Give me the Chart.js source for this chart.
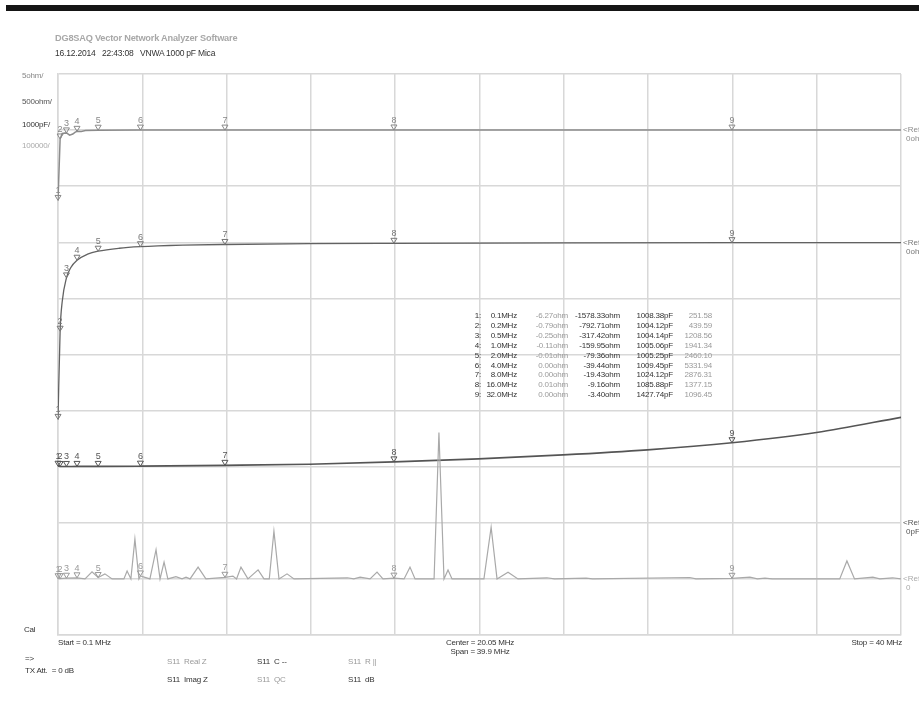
<!DOCTYPE html>
<html>
<head>
<meta charset="utf-8">
<script src="https://cdn.jsdelivr.net/npm/chart.js@4"></script>
<style>
  body { margin: 0; background: #fff; width: 919px; height: 711px; overflow: hidden; position: relative;
         font-family: "Liberation Sans", Arial, sans-serif; }
  #plot { position: absolute; left: 0; top: 0; }
  .t { position: absolute; white-space: nowrap; font-size: 8px; line-height: 10px; color: #333; letter-spacing: -0.2px; }
  .lite { color: #9a9a9a; }
  .r { text-align: right; }
  #bar { position: absolute; left: 6px; top: 5px; width: 913px; height: 6px; background: #151515; }
</style>
</head>
<body>
<div id="bar"></div>
<canvas id="plot" width="919" height="711"></canvas>
<div id="labels"></div>
<script>
// Sweep: 0.1 .. 40 MHz, markers 1..9
const startMHz = 0.1;
const stopMHz = 40;
const markerFreq = [0.1, 0.2, 0.5, 1.0, 2.0, 4.0, 8.0, 16.0, 32.0];
const markerReal = [-6.27, -0.79, -0.25, -0.11, -0.01, 0.00, 0.00, 0.01, 0.00];
const markerImag = [-1578.33, -792.71, -317.42, -159.95, -79.36, -39.44, -19.43, -9.16, -3.40];
const markerCap = [1008.38, 1004.12, 1004.14, 1005.06, 1005.25, 1009.45, 1024.12, 1085.88, 1427.74];
const markerQ = [251.58, 439.59, 1208.56, 1941.34, 2460.10, 5331.94, 2876.31, 1377.15, 1096.45];

// S11 Real Z (ohm)
const realFreq = [0.1, 0.2, 0.3, 0.5, 0.65, 0.8, 0.9, 1.0, 1.2, 1.4, 2.0, 4.0, 8.0, 16.0, 32.0, 40.0];
const realVals = [-6.27, -0.79, -0.3, -0.25, -0.45, -0.35, -0.2, -0.11, -0.12, -0.04, -0.01, 0.00, 0.00, 0.01, 0.00, 0.00];

// S11 Imag Z (ohm)
const imagFreq = [0.1, 0.2, 0.3, 0.5, 0.7, 1.0, 1.5, 2.0, 3.0, 4.0, 6.0, 8.0, 12.0, 16.0, 24.0, 32.0, 40.0];
const imagVals = [-1578.33, -792.71, -528, -317.42, -227, -159.95, -106, -79.36, -53, -39.44, -26, -19.43, -12.5, -9.16, -5.4, -3.40, -2.1];

// S11 C (pF)
const capFreq = [0.1, 0.2, 0.5, 1.0, 2.0, 4.0, 8.0, 12.0, 16.0, 20.0, 24.0, 28.0, 32.0, 36.0, 40.0];
const capVals = [1008.38, 1004.12, 1004.14, 1005.06, 1005.25, 1009.45, 1024.12, 1045, 1085.88, 1140, 1210, 1300, 1427.74, 1610, 1880];

// S11 Q
const qFreq = [0.1, 0.2, 0.5, 1.0, 1.38, 1.71, 2.0, 2.32, 2.66, 3.22, 3.37, 3.55, 3.74, 3.93, 4.0, 4.45, 4.74, 4.93, 5.12, 5.3,
  5.68, 5.97, 6.16, 6.35, 6.73, 7.1, 8.0, 8.38, 8.55, 8.76, 9.09, 9.57, 9.85, 10.1, 10.32, 10.56, 10.94, 11.27,
  13.8, 14.1, 14.4, 14.87, 15.2, 15.48, 16.0, 16.48, 16.76, 17.0, 17.9, 18.13, 18.37, 18.56, 18.75,
  20.26, 20.6, 20.88, 21.4, 21.87, 23.24, 23.6, 25.1, 25.4, 30.0, 30.3, 32.0, 32.85, 33.2, 33.56, 33.9,
  37.1, 37.44, 37.8, 38.67, 39.0, 39.6, 40.0];
const qVals = [251.58, 439.59, 1208.56, 1941.34, 0, 12500, 2460.10, 9000, 0, 0, 14000, 0, 71000, 0, 5331.94, 0, 52000, 0, 30000, 0,
  4000, 0, 3000, 0, 21000, 0, 2876.31, 5000, 0, 21000, 0, 16000, 0, 0, 85000, 0, 9000, 0,
  2000, 0, 3000, 0, 12000, 0, 1377.15, 0, 21000, 0, 0, 261000, 0, 16000, 0,
  0, 92000, 0, 12000, 0, 2000, 0, 1500, 0, 2500, 0, 1096.45, 3000, 0, 1500, 0,
  0, 32000, 0, 3000, 0, 2000, 0];

const pts = (xs, ys) => xs.map((x, i) => ({ x: x, y: ys[i] }));

const traceColors = { real: '#8c8c8c', imag: '#626262', cap: '#555555', q: '#a9a9a9' };

// marker triangles with their numbers, drawn on top of each trace
const markerPlugin = {
  id: 'markers',
  afterDatasetsDraw(chart) {
    const ctx = chart.ctx;
    chart.data.datasets.forEach((ds, di) => {
      if (!ds.isMarker) return;
      const meta = chart.getDatasetMeta(di);
      ctx.save();
      ctx.strokeStyle = ds.borderColor;
      ctx.fillStyle = ds.borderColor;
      ctx.lineWidth = 1;
      ctx.font = '9px "Liberation Sans", Arial, sans-serif';
      ctx.textAlign = 'center';
      ctx.textBaseline = 'bottom';
      meta.data.forEach((p, i) => {
        ctx.beginPath();
        ctx.moveTo(p.x, p.y);
        ctx.lineTo(p.x - 3, p.y - 5);
        ctx.lineTo(p.x + 3, p.y - 5);
        ctx.closePath();
        ctx.stroke();
        ctx.fillText(String(i + 1), p.x, p.y - 5);
      });
      ctx.restore();
    });
  }
};

// "<Ref" tags at the right edge, one per trace
const refPlugin = {
  id: 'refs',
  afterDraw(chart) {
    const ctx = chart.ctx;
    const x = chart.chartArea.right + 2;
    const refs = [['yReal', '0ohm', '#8c8c8c'], ['yImag', '0ohm', '#777'], ['yCap', '0pF', '#555'], ['yQ', '0', '#aaa']];
    ctx.save();
    ctx.font = '8px "Liberation Sans", Arial, sans-serif';
    ctx.textBaseline = 'middle';
    refs.forEach(([id, unit, col]) => {
      const y = chart.scales[id].getPixelForValue(0);
      ctx.fillStyle = col;
      ctx.fillText('<Ref', x, y);
      ctx.fillText(unit, x + 3, y + 9);
    });
    ctx.restore();
  }
};

const line = (data, color, width, yAxisID, smooth) => ({
  data: data, borderColor: color, borderWidth: width, pointRadius: 0, fill: false,
  xAxisID: 'x', yAxisID: yAxisID, tension: 0, cubicInterpolationMode: smooth ? 'monotone' : 'default'
});
const marks = (data, color, yAxisID) => ({
  data: data, borderColor: color, showLine: false, pointRadius: 0, isMarker: true,
  xAxisID: 'x', yAxisID: yAxisID
});

const hiddenY = (perDiv, refDiv) => ({
  type: 'linear', display: false, min: -refDiv * perDiv, max: (10 - refDiv) * perDiv
});

new Chart(document.getElementById('plot'), {
  type: 'line',
  data: {
    datasets: [
      line(pts(qFreq, qVals), traceColors.q, 1.2, 'yQ', false),
      line(pts(capFreq, capVals), traceColors.cap, 1.6, 'yCap', true),
      line(pts(imagFreq, imagVals), traceColors.imag, 1.3, 'yImag', true),
      line(pts(realFreq, realVals), traceColors.real, 1.5, 'yReal', false),
      marks(pts(markerFreq, markerQ), '#9a9a9a', 'yQ'),
      marks(pts(markerFreq, markerCap), '#555', 'yCap'),
      marks(pts(markerFreq, markerImag), '#777', 'yImag'),
      marks(pts(markerFreq, markerReal), '#888', 'yReal')
    ]
  },
  options: {
    responsive: false,
    animation: false,
    layout: { padding: { left: 58, top: 74, right: 18, bottom: 76 } },
    plugins: { legend: { display: false }, tooltip: { enabled: false } },
    scales: {
      x: { type: 'linear', display: false, min: startMHz, max: stopMHz },
      // 5 ohm/div, 500 ohm/div, 1000 pF/div, 100000/div
      yReal: hiddenY(5, 9),
      yImag: hiddenY(500, 7),
      yCap: hiddenY(1000, 2),
      yQ: hiddenY(100000, 1),
      gx: {
        type: 'linear', position: 'bottom', min: 0, max: 10,
        ticks: { display: false, stepSize: 1 },
        grid: { color: '#d8d8d8', lineWidth: 1.5, drawTicks: false },
        border: { color: '#d8d8d8', width: 1.5 }
      },
      gy: {
        type: 'linear', position: 'left', min: 0, max: 10,
        ticks: { display: false, stepSize: 1 },
        grid: { color: '#d8d8d8', lineWidth: 1.5, drawTicks: false },
        border: { color: '#d8d8d8', width: 1.5 }
      }
    }
  },
  plugins: [markerPlugin, refPlugin]
});

// page text: header, scale labels, marker table, sweep info, trace list
const labels = document.getElementById('labels');
function put(text, x, y, cls, extra) {
  const d = document.createElement('div');
  d.className = 't ' + (cls || '');
  d.textContent = text;
  d.style.left = x + 'px';
  d.style.top = (y - 5) + 'px';
  if (extra) Object.assign(d.style, extra);
  labels.appendChild(d);
  return d;
}
function putRight(text, xr, y, cls) {
  return put(text, 0, y, 'r ' + (cls || ''), { left: 'auto', right: (919 - xr) + 'px' });
}

put('DG8SAQ Vector Network Analyzer Software', 55, 38, 'lite', { fontWeight: 'bold', fontSize: '9.2px', color: '#a8a8a8' });
put('16.12.2014   22:43:08   VNWA 1000 pF Mica', 55, 53, '', { fontSize: '8.5px', whiteSpace: 'pre' });

put('5ohm/', 22, 76, '', { color: '#888' });
put('500ohm/', 22, 102, '', { color: '#555' });
put('1000pF/', 22, 125, '', { color: '#333' });
put('100000/', 22, 146, '', { color: '#aaa' });
put('Cal', 24, 630);

const rowY = i => 316 + i * 9.9;
markerFreq.forEach((f, i) => {
  putRight((i + 1) + ':', 481, rowY(i));
  putRight(f.toFixed(1) + 'MHz', 517, rowY(i));
  putRight(markerReal[i].toFixed(2) + 'ohm', 568, rowY(i), 'lite');
  putRight(markerImag[i].toFixed(2) + 'ohm', 620, rowY(i));
  putRight(markerCap[i].toFixed(2) + 'pF', 673, rowY(i));
  putRight(markerQ[i].toFixed(2), 712, rowY(i), 'lite');
});

put('Start = ' + startMHz + ' MHz', 58, 643);
put('Center = ' + ((startMHz + stopMHz) / 2).toFixed(2) + ' MHz', 0, 643, '', { left: '380px', width: '200px', textAlign: 'center' });
put('Span = ' + (stopMHz - startMHz).toFixed(1) + ' MHz', 0, 652, '', { left: '380px', width: '200px', textAlign: 'center' });
putRight('Stop = ' + stopMHz + ' MHz', 902, 643);

put('=>', 25, 659);
put('TX Att.  = 0 dB', 25, 671, '', { whiteSpace: 'pre' });
put('S11  Real Z', 167, 662, 'lite', { whiteSpace: 'pre' });
put('S11  Imag Z', 167, 680, '', { whiteSpace: 'pre' });
put('S11  C --', 257, 662, '', { whiteSpace: 'pre' });
put('S11  QC', 257, 680, 'lite', { whiteSpace: 'pre' });
put('S11  R ||', 348, 662, 'lite', { whiteSpace: 'pre' });
put('S11  dB', 348, 680, '', { whiteSpace: 'pre' });
</script>
</body>
</html>
